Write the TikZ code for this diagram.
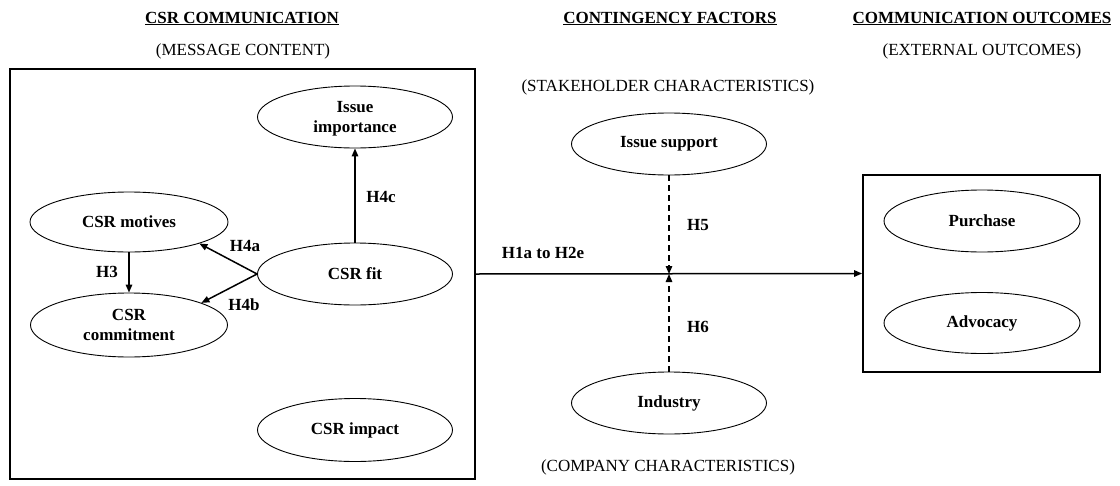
\documentclass[tikz,border=0pt]{standalone}
\usepackage{fontspec}
\setmainfont{Liberation Serif}
\usetikzlibrary{shapes.geometric,arrows.meta}
\tikzset{
  oval/.style={draw, ellipse, line width=0.9pt, inner sep=0pt, minimum width=195pt, minimum height=62pt, align=center, font=\fontsize{17}{20}\selectfont\bfseries},
  twoline/.style={text depth=0pt},
  frame/.style={draw, line width=1.8pt, inner sep=0pt},
  arr/.style={line width=1.5pt, -{Triangle[length=8pt,width=6.5pt]}},
  darr/.style={line width=1.4pt, dash pattern=on 6pt off 4pt, -{Triangle[length=8pt,width=6.5pt]}},
  hlabel/.style={font=\fontsize{17}{20}\selectfont\bfseries, inner sep=0pt},
  title/.style={font=\fontsize{17}{20}\selectfont\bfseries, inner sep=0pt, anchor=base},
  subtitle/.style={font=\fontsize{17}{20}\selectfont, inner sep=0pt, anchor=base}
}
\begin{document}
\begin{tikzpicture}[x=1pt,y=-1pt]
\useasboundingbox (0,0) rectangle (1120,485);
% headings
\node[title] (t1) at (242,23) {\underline{CSR COMMUNICATION}};
\node[subtitle] (s1) at (243,55) {(MESSAGE CONTENT)};
\node[title] (t2) at (670,23) {\underline{CONTINGENCY FACTORS}};
\node[subtitle] (s2) at (668,91) {(STAKEHOLDER CHARACTERISTICS)};
\node[subtitle] (s3) at (668,471) {(COMPANY CHARACTERISTICS)};
\node[title] (t3) at (982,23) {\underline{COMMUNICATION OUTCOMES}};
\node[subtitle] (s4) at (982,55) {(EXTERNAL OUTCOMES)};
% frames
\node[frame, minimum width=465pt, minimum height=410pt] (leftbox) at (242.5,274) {};
\node[frame, minimum width=237pt, minimum height=197pt] (rightbox) at (981.5,273.5) {};
% ellipses
\node[oval, twoline] (importance) at (355,117) {Issue\\importance};
\node[oval, minimum width=198pt, minimum height=60pt] (motives) at (129,222) {CSR motives};
\node[oval] (fit) at (355,274) {CSR fit};
\node[oval, twoline, minimum width=197pt, minimum height=64pt] (commitment) at (129,325) {CSR\\commitment};
\node[oval, minimum height=63pt] (impact) at (355,430) {CSR impact};
\node[oval] (support) at (669,144) {Issue support};
\node[oval] (industry) at (669,403) {Industry};
\node[oval, minimum width=196pt] (purchase) at (982,221) {Purchase};
\node[oval, minimum width=196pt, minimum height=61pt] (advocacy) at (982,323) {Advocacy};
% connectors
\draw[arr] (fit.north) -- (importance.south);
\draw[arr] (fit.west) -- (motives.-17);
\draw[arr] (fit.west) -- (commitment.17);
\draw[arr] (motives.south) -- (commitment.north);
\draw[arr] (leftbox.east) -- (rightbox.west);
\coordinate (junction) at (support.south |- leftbox.east);
\draw[darr] (support.south) -- (junction);
\draw[darr] (industry.north) -- (junction);
% labels
\node[hlabel] (lh4c) at (381,197) {H4c};
\node[hlabel] (lh4a) at (245,246) {H4a};
\node[hlabel] (lh4b) at (244,305) {H4b};
\node[hlabel] (lh3) at (107,272) {H3};
\node[hlabel] (lh1) at (543,253) {H1a to H2e};
\node[hlabel] (lh5) at (698,225) {H5};
\node[hlabel] (lh6) at (698,327) {H6};
\end{tikzpicture}
\end{document}
